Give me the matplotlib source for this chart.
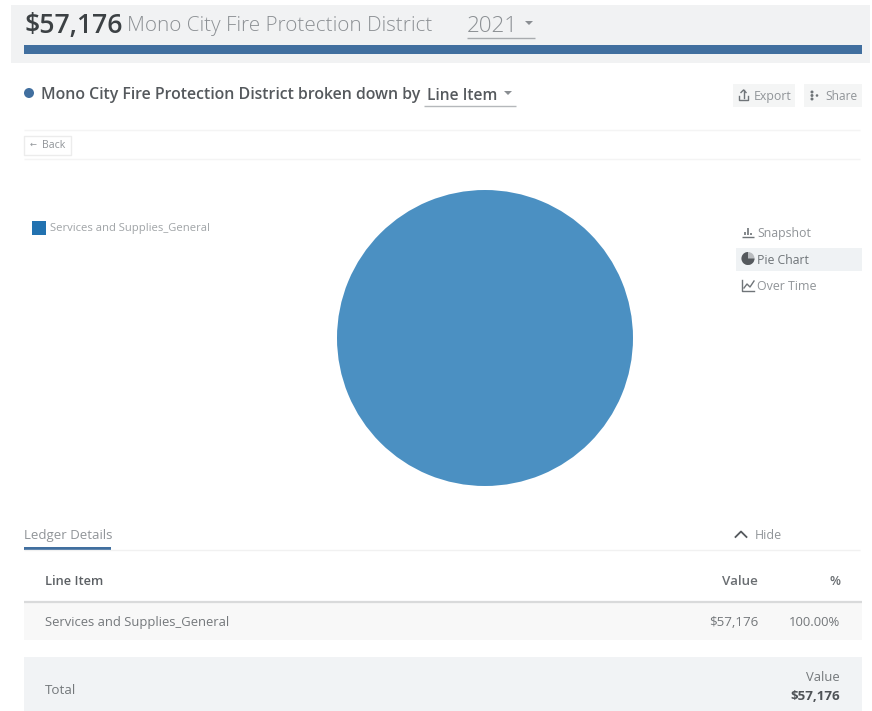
#!/usr/bin/env python3
# -*- coding: utf-8 -*-
import matplotlib

matplotlib.use("Agg")
import matplotlib.pyplot as plt
from matplotlib.patches import Circle, Polygon, Rectangle, Wedge

plt.rcParams["font.family"] = ["Open Sans", "DejaVu Sans"]

# Ledger data
line_items = ["Services and Supplies_General"]
line_values = [57176]
line_colors = ["#4b90c2"]
legend_colors = ["#2272b0"]
district = "Mono City Fire Protection District"
year = "2021"
group_by = "Line Item"

total = sum(line_values)
total_label = f"${total:,}"

DARK = "#3c4144"
MID = "#6f7478"
LIGHT = "#909498"
BLUE = "#416f9f"

fig = plt.figure(figsize=(8.72, 7.11), dpi=100, facecolor="white")

# Page furniture is laid out in pixel coordinates
ui = fig.add_axes([0, 0, 1, 1])
ui.set_xlim(0, 872)
ui.set_ylim(711, 0)
ui.axis("off")


def box(x0, y0, x1, y1, color, **kwargs):
    ui.add_patch(Rectangle((x0, y0), x1 - x0, y1 - y0, fc=color, ec="none", **kwargs))


def hline(x0, x1, y, color, lw=1.0, **kwargs):
    ui.plot([x0, x1], [y, y], color=color, lw=lw, solid_capstyle="butt", **kwargs)


def label(x, y, s, size, color=MID, ha="left", weight="normal"):
    ui.text(x, y + 1, s, fontsize=size, color=color, ha=ha, va="center", fontweight=weight)


def caret(x, y, color="#8a8e92"):
    ui.add_patch(Polygon([(x - 4, y - 2), (x + 4, y - 2), (x, y + 2)], fc=color, ec="none"))


# Header band
box(11, 5, 870, 63, "#f1f2f3")
box(24, 45, 862, 54, BLUE)
label(24, 25, total_label, 19.2, DARK, weight="semibold")
label(127, 25, district, 14.9, "#8c9094", weight="light")
label(467, 25, year, 16.2, "#8c9094", weight="light")
hline(467, 535, 37.5, "#a8abae")
caret(529, 23)

# Breakdown title row
ui.add_patch(Circle((29, 93), 5, fc=BLUE, ec="none"))
label(41, 94, f"{district} broken down by", 11.4, "#55595d", weight="semibold")
label(427, 95, group_by, 11.2, "#55595d", weight="semibold")
hline(424, 516, 105.5, "#b5b8bb")
caret(508, 93)

# Export / Share buttons
box(733, 84, 795, 107, "#f4f5f5")
box(804, 84, 862, 107, "#f4f5f5")
ui.plot([739, 739, 748, 748], [96, 100, 100, 96], color=MID, lw=1)
ui.plot([743.5, 743.5], [90, 98], color=MID, lw=1)
ui.plot([741, 743.5, 746], [92.5, 90, 92.5], color=MID, lw=1)
label(754, 95.5, "Export", 8.9, LIGHT)
for yy in (92, 95.5, 99):
    ui.add_patch(Circle((812, yy), 1.5, fc=MID, ec="none"))
ui.add_patch(Circle((817, 95.5), 1.3, fc=MID, ec="none"))
label(825, 95.5, "Share", 8.6, LIGHT)

# Back button between two hairlines
hline(24, 860, 130, "#f4f4f4")
hline(24, 860, 159, "#f4f4f4")
ui.add_patch(Rectangle((24, 136), 47, 19, fc="white", ec="#ececec", lw=1))
label(30, 144, "\u2190", 6, LIGHT)
label(42, 144.5, "Back", 7.6, LIGHT)

# Legend
box(32, 221, 46, 235, legend_colors[0])
label(50, 227, line_items[0], 8.1, "#a0a4a7")

# Chart type switcher
box(736, 248, 862, 271, "#eff2f4")
label(757, 232, "Snapshot", 8.9, LIGHT)
label(757, 259, "Pie Chart", 8.8, MID)
label(757, 286, "Over Time", 8.9, LIGHT)
hline(742, 754, 237, MID)
ui.vlines([745, 748, 751], [232, 228, 233], [235, 235, 235], color=MID, lw=1.2)
ui.add_patch(Circle((748, 258.5), 6.5, fc="#b9bcbf", ec="none"))
ui.add_patch(Wedge((748, 258.5), 6.5, 0, 270, fc="#55595d", ec="none"))
ui.plot([742, 742, 754], [280, 291, 291], color=MID, lw=1)
ui.plot([744, 747, 750, 754], [288, 284, 287, 281], color=MID, lw=1)

# Ledger tab
label(24, 535, "Ledger Details", 9.5, LIGHT)
hline(24, 860, 549.5, "#f1f1f1")
box(24, 546.5, 111, 549.5, BLUE)
ui.plot([735.5, 741, 746.5], [537, 531.5, 537], color="#55595d", lw=1.3)
label(755, 534.5, "Hide", 8.9, LIGHT)

# Ledger table
table_x = (45, 758, 840)
label(table_x[0], 580.5, "Line Item", 9.3, "#5c6064", weight="semibold")
label(table_x[1], 580.5, "Value", 9.6, "#6a6e72", ha="right", weight="semibold")
label(table_x[2], 580.5, "%", 9.3, "#6a6e72", ha="right", weight="semibold")
box(24, 602, 862, 640, "#f8f8f8")
hline(24, 862, 601.5, "#d9dadb", lw=1.6)
label(table_x[0], 621.5, line_items[0], 9.4, "#74787b")
label(table_x[1], 621.5, f"${line_values[0]:,}", 9.6, "#74787b", ha="right")
label(table_x[2], 621.5, f"{line_values[0] / total:.2%}", 9.4, "#74787b", ha="right")

# Total row
box(24, 657, 862, 711, "#f1f3f5")
label(table_x[0], 689, "Total", 9.6, "#74787b")
label(table_x[2], 676.5, "Value", 9.4, "#74787b", ha="right")
label(table_x[2], 695, total_label, 9.6, "#4f5357", ha="right", weight="bold")

# Pie chart of line items
pie_ax = fig.add_axes([337 / 872, 1 - 486 / 711, 296 / 872, 296 / 711])
pie_ax.pie(line_values, colors=line_colors, radius=1, startangle=90)
pie_ax.set_xlim(-1, 1)
pie_ax.set_ylim(-1, 1)

fig.savefig("out.png", dpi=100, facecolor="white")
